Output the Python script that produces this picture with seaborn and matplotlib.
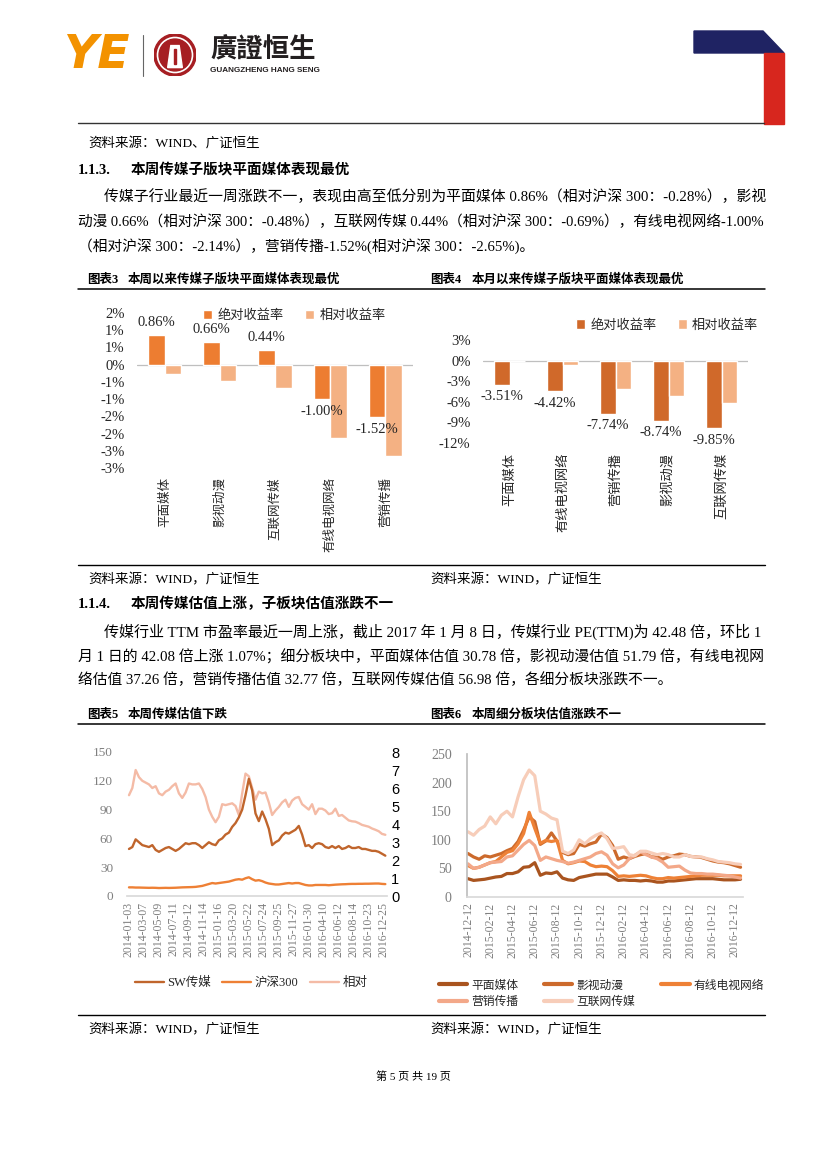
import numpy as np
import pandas as pd
import matplotlib
matplotlib.use("Agg")
import matplotlib.pyplot as plt
import seaborn as sns
from matplotlib.patches import Polygon, Rectangle, Circle
from matplotlib.lines import Line2D

# ---------------- data ----------------
cats3 = ["平面媒体", "影视动漫", "互联网传媒", "有线电视网络", "营销传播"]
abs3 = [0.86, 0.66, 0.44, -1.00, -1.52]
rel3 = [-0.28, -0.48, -0.69, -2.14, -2.65]
yticks3 = [1.5, 1.0, 0.5, 0.0, -0.5, -1.0, -1.5, -2.0, -2.5, -3.0]
ylabels3 = ["2%", "1%", "1%", "0%", "-1%", "-1%", "-2%", "-2%", "-3%", "-3%"]

cats4 = ["平面媒体", "有线电视网络", "营销传播", "影视动漫", "互联网传媒"]
abs4 = [-3.51, -4.42, -7.74, -8.74, -9.85]
rel4 = [0.0, -0.7, -4.1, -5.1, -6.2]
yticks4 = [3, 0, -3, -6, -9, -12]
ylabels4 = ["3%", "0%", "-3%", "-6%", "-9%", "-12%"]

legend_bar = ["绝对收益率", "相对收益率"]

names5 = ["SW传媒", "沪深300", "相对"]
sw5 = [49, 51, 59, 56, 53, 52, 51, 53, 48, 46,
       48, 50, 51, 49, 47, 49, 52, 55, 54, 55,
       55, 53, 50, 53, 56, 54, 53, 58, 60, 64,
       66, 72, 76, 82, 90, 105, 122, 110, 86, 78,
       88, 80, 70, 53, 56, 58, 63, 66, 65, 67,
       69, 73, 64, 52, 53, 50, 54, 55, 54, 51,
       50, 52, 50, 52, 49, 50, 52, 50, 50, 51,
       49, 49, 48, 47, 47, 46, 44, 42]
hs5 = [9.0, 9.0, 8.8, 8.8, 8.7, 8.6, 8.5, 8.6, 8.5, 8.3,
       8.4, 8.5, 8.4, 8.5, 8.6, 8.8, 9.0, 9.1, 9.2, 9.3,
       9.5, 10.0, 10.5, 11.5, 12.5, 13.5, 13.0, 13.5, 14.0, 14.5,
       15.0, 16.0, 17.0, 17.5, 17.0, 18.5, 19.5, 17.5, 16.0, 16.5,
       15.5, 14.0, 13.0, 12.5, 12.0, 12.0, 12.5, 13.0, 13.5, 13.0,
       13.5, 13.5, 12.5, 11.5, 11.0, 11.0, 11.5, 11.5, 11.5, 11.5,
       11.2, 11.5, 11.8, 12.0, 12.2, 12.3, 12.5, 12.6, 12.6, 12.7,
       12.7, 12.8, 12.8, 12.9, 13.0, 13.0, 12.6, 12.4]
rel5 = [5.6, 6.0, 7.0, 6.6, 6.4, 6.3, 6.2, 6.0, 6.1, 5.7,
        5.6, 5.8, 5.9, 6.1, 6.25, 5.7, 5.45, 5.75, 6.25, 6.2,
        6.2, 6.25, 5.95, 5.5, 4.8, 4.4, 4.1, 4.4, 5.1, 5.05,
        5.1, 5.15, 5.0, 4.5, 5.7, 6.8, 6.65, 6.0, 5.35, 5.8,
        5.7, 5.75, 5.2, 4.5, 4.75, 4.95, 5.2, 5.35, 4.95, 5.3,
        5.45, 5.5, 5.1, 4.95, 4.8, 5.1, 4.55, 4.85, 4.85, 4.75,
        4.55, 4.6, 4.85, 4.45, 4.5, 4.35, 4.2, 4.15, 4.13, 4.05,
        3.95, 3.9, 3.85, 3.75, 3.68, 3.6, 3.45, 3.4]
xlabels5 = ["2014-01-03", "2014-03-07", "2014-05-09", "2014-07-11", "2014-09-12",
            "2014-11-14", "2015-01-16", "2015-03-20", "2015-05-22", "2015-07-24",
            "2015-09-25", "2015-11-27", "2016-01-30", "2016-04-10", "2016-06-12",
            "2016-08-14", "2016-10-23", "2016-12-25"]

names6 = ["平面媒体", "影视动漫", "有线电视网络", "营销传播", "互联网传媒"]
pm6 = [32, 29, 30, 31, 33, 35, 36, 41, 41, 44, 52, 53, 60, 38, 42, 41, 44, 33, 30, 29,
       34, 36, 38, 40, 40, 40, 35, 29, 30, 29, 29, 28, 29, 28, 26, 26, 28, 28, 29, 30,
       31, 32, 32, 32, 32, 31, 30, 30, 30, 31]
ys6 = [76, 70, 66, 72, 70, 73, 76, 81, 85, 97, 117, 140, 132, 92, 98, 112, 98, 78, 74, 76,
       92, 89, 93, 96, 110, 104, 90, 66, 70, 67, 71, 74, 76, 70, 70, 66, 70, 72, 75, 74,
       71, 70, 69, 66, 63, 61, 60, 58, 55, 52]
yx6 = [55, 50, 52, 56, 60, 62, 70, 78, 81, 93, 111, 148, 120, 94, 99, 97, 99, 64, 58, 60,
       63, 62, 56, 53, 54, 53, 46, 36, 37, 36, 37, 38, 37, 34, 32, 32, 34, 33, 34, 35,
       36, 37, 38, 38, 38, 38, 37, 37, 37, 37]
yc6 = [58, 50, 52, 56, 60, 61, 62, 70, 72, 82, 92, 99, 90, 64, 70, 67, 64, 62, 59, 61,
       64, 67, 70, 76, 79, 73, 58, 51, 56, 67, 73, 79, 74, 70, 67, 61, 52, 53, 54, 47,
       42, 41, 41, 40, 40, 39, 38, 37, 35, 33]
hl6 = [114, 108, 118, 124, 140, 128, 143, 150, 140, 175, 205, 222, 212, 150, 145, 138, 135, 80, 76, 82,
       100, 93, 102, 108, 112, 102, 85, 86, 88, 74, 72, 80, 80, 77, 74, 76, 74, 70, 70, 74,
       71, 70, 70, 67, 65, 62, 61, 60, 58, 57]
xlabels6 = ["2014-12-12", "2015-02-12", "2015-04-12", "2015-06-12", "2015-08-12",
            "2015-10-12", "2015-12-12", "2016-02-12", "2016-04-12", "2016-06-12",
            "2016-08-12", "2016-10-12", "2016-12-12"]

# ---------------- style ----------------
sns.set_theme(style="white")
BODY = ["Liberation Serif", "Noto Sans CJK SC"]
CJK = ["Noto Sans CJK SC", "Liberation Serif"]
plt.rcParams["font.family"] = BODY
plt.rcParams["axes.unicode_minus"] = False

C_ABS3 = "#ED7D31"
C_ABS4 = "#D0692A"
C_REL = "#F4B183"
C5 = ["#C0652C", "#EE8035", "#F4BBA6"]
C6 = ["#A9541F", "#CC6A2C", "#EE8136", "#F3A889", "#F7CDB9"]
GREY = "#7F7F7F"

W, H = 827, 1169
fig = plt.figure(figsize=(W / 100, H / 100), dpi=100)
fig.patch.set_facecolor("white")
renderer = fig.canvas.get_renderer()


def fx(x):
    return x / W


def fy(y):
    return 1 - y / H


def text(x, y, s, size=10, weight="normal", ha="left", va="center", color="black", family=None, **kw):
    return fig.text(fx(x), fy(y), s, fontsize=size, fontweight=weight, ha=ha, va=va,
                    color=color, family=family or BODY, **kw)


def justified(x0, x1, y, s, size=10.6):
    t = text(x0, y, s, size=size)
    w = t.get_window_extent(renderer).width
    t.set_fontsize(size * (x1 - x0) / w)
    return t


def hline(x0, x1, y, lw=1.0, color="black"):
    fig.add_artist(Line2D([fx(x0), fx(x1)], [fy(y), fy(y)], transform=fig.transFigure,
                          lw=lw, color=color))


def axes_px(left, top, right, bottom):
    return fig.add_axes([fx(left), fy(bottom), (right - left) / W, (bottom - top) / H])


# ---------------- header ----------------
text(63, 55, "YE", size=34, weight="heavy", color="#F39200", family=["DejaVu Sans"], style="italic")
fig.add_artist(Line2D([fx(143), fx(143)], [fy(35), fy(76)], transform=fig.transFigure,
                      lw=0.8, color="#666666"))
axl = axes_px(154, 34, 196, 76)
axl.set_xlim(-1, 1)
axl.set_ylim(-1, 1)
axl.set_aspect("equal")
axl.axis("off")
axl.add_patch(Circle((0, 0), 1.0, color="#A61E22"))
axl.add_patch(Circle((0, 0), 0.84, color="white"))
axl.add_patch(Circle((0, 0), 0.76, color="#A61E22"))
axl.add_patch(Polygon([[-0.35, -0.6], [-0.2, 0.45], [0.2, 0.45], [0.35, -0.6]], color="white"))
axl.add_patch(Rectangle((-0.06, -0.45), 0.12, 0.75, color="#A61E22"))
text(210, 50, "廣證恒生", size=19, weight="bold", color="#231F20", family=["Noto Sans CJK TC"])
text(210, 71, "GUANGZHENG HANG SENG", size=5.9, weight="bold", color="#231F20",
     family=["Liberation Sans"])
fig.add_artist(Polygon([[fx(694), fy(31)], [fx(763), fy(31)], [fx(784), fy(53)], [fx(694), fy(53)]],
                       closed=True, transform=fig.transFigure, color="#1F2363"))
fig.add_artist(Rectangle((fx(764), fy(124)), (784 - 764) / W, (124 - 53) / H,
                         transform=fig.transFigure, color="#D7261E"))
hline(78, 764, 123, lw=1.0, color="#333333")

# ---------------- body text ----------------
text(88, 143, "资料来源：WIND、广证恒生", size=9.7)
text(78, 170, "1.1.3.", size=10.5, weight="bold")
text(131, 170, "本周传媒子版块平面媒体表现最优", size=10.5, weight="bold")
justified(104, 765, 197, "传媒子行业最近一周涨跌不一，表现由高至低分别为平面媒体 0.86%（相对沪深 300：-0.28%），影视")
justified(78, 765, 222, "动漫 0.66%（相对沪深 300：-0.48%），互联网传媒 0.44%（相对沪深 300：-0.69%），有线电视网络-1.00%")
text(78, 246, "（相对沪深 300：-2.14%），营销传播-1.52%(相对沪深 300：-2.65%)。", size=10.6)

text(87, 280, "图表3", size=9, weight="bold")
text(128, 280, "本周以来传媒子版块平面媒体表现最优", size=9, weight="bold")
text(430, 280, "图表4", size=9, weight="bold")
text(472, 280, "本月以来传媒子版块平面媒体表现最优", size=9, weight="bold")
hline(78, 765, 289, lw=1.1)

hline(78, 765, 565, lw=1.0)
text(88, 580, "资料来源：WIND，广证恒生", size=9.7)
text(430, 580, "资料来源：WIND，广证恒生", size=9.7)
text(78, 604, "1.1.4.", size=10.5, weight="bold")
text(131, 604, "本周传媒估值上涨，子板块估值涨跌不一", size=10.5, weight="bold")
justified(104, 765, 632, "传媒行业 TTM 市盈率最近一周上涨，截止 2017 年 1 月 8 日，传媒行业 PE(TTM)为 42.48 倍，环比 1")
justified(78, 765, 657, "月 1 日的 42.08 倍上涨 1.07%；细分板块中，平面媒体估值 30.78 倍，影视动漫估值 51.79 倍，有线电视网")
text(78, 680, "络估值 37.26 倍，营销传播估值 32.77 倍，互联网传媒估值 56.98 倍，各细分板块涨跌不一。", size=10.6)

text(87, 715, "图表5", size=9, weight="bold")
text(128, 715, "本周传媒估值下跌", size=9, weight="bold")
text(430, 715, "图表6", size=9, weight="bold")
text(472, 715, "本周细分板块估值涨跌不一", size=9, weight="bold")
hline(78, 765, 724, lw=1.1)

hline(78, 765, 1015, lw=1.0)
text(88, 1030, "资料来源：WIND，广证恒生", size=9.7)
text(430, 1030, "资料来源：WIND，广证恒生", size=9.7)
text(413, 1077, "第 5 页 共 19 页", size=8, ha="center")


# ---------------- bar charts ----------------
def bar_chart(ax, cats, a, r, c_abs, yticks, ylabels, ylim, xpad, xsize, leg_anchor):
    df = pd.DataFrame({"cat": cats * 2, "val": a + r,
                       "type": [legend_bar[0]] * len(cats) + [legend_bar[1]] * len(cats)})
    sns.barplot(data=df, x="cat", y="val", hue="type", palette=[c_abs, C_REL],
                width=0.6, saturation=1, ax=ax, order=cats, hue_order=legend_bar)
    ax.set_ylim(*ylim)
    ax.set_yticks(yticks)
    ax.set_yticklabels(ylabels)
    ax.axhline(0, color="#BFBFBF", lw=0.9, zorder=0.5)
    for s in ax.spines.values():
        s.set_visible(False)
    ax.tick_params(axis="y", length=0, pad=9, labelsize=10.5)
    ax.tick_params(axis="x", length=0, pad=xpad, labelsize=xsize, labelrotation=90)
    for lab in ax.get_xticklabels():
        lab.set_family(CJK)
    ax.set_xlabel("")
    ax.set_ylabel("")
    ax.set_facecolor("white")
    ax.bar_label(ax.containers[0], labels=[f"{v:.2f}%" for v in a], padding=4, fontsize=10.5)
    leg = ax.legend(loc="center left", bbox_to_anchor=leg_anchor, ncol=2, frameon=False,
                    handlelength=0.7, handleheight=0.7, handletextpad=0.4, columnspacing=1.6,
                    fontsize=9.5, borderaxespad=0)
    for t in leg.get_texts():
        t.set_family(CJK)
    return ax


ax3 = axes_px(137, 313, 413, 468)
bar_chart(ax3, cats3, abs3, rel3, C_ABS3, yticks3, ylabels3, (-3, 1.5), 6.5, 9, (0.22, 0.985))

ax4 = axes_px(483, 340, 748, 443)
bar_chart(ax4, cats4, abs4, rel4, C_ABS4, yticks4, ylabels4, (-12, 3), 7, 9.5, (0.33, 1.145))

# ---------------- chart 5 ----------------
ax5 = axes_px(127, 752, 387, 896)
weeks5 = np.arange(len(sw5)) * 2
df5 = pd.DataFrame({"week": np.concatenate([weeks5, weeks5]),
                    "val": sw5 + hs5,
                    "series": [names5[0]] * len(sw5) + [names5[1]] * len(hs5)})
sns.lineplot(data=df5, x="week", y="val", hue="series", hue_order=names5[:2],
             palette=C5[:2], lw=1.7, ax=ax5, legend=False)
ax5b = ax5.twinx()
sns.lineplot(x=weeks5, y=rel5, color=C5[2], lw=1.7, ax=ax5b, legend=False)
ax5.set_zorder(ax5b.get_zorder() + 1)
ax5.patch.set_visible(False)
ax5.set_xlim(-1.2, 155)
ax5.set_ylim(0, 150)
ax5b.set_ylim(0, 8)
ax5.set_yticks(np.arange(0, 151, 30))
ax5b.set_yticks(np.arange(0, 9, 1))
ax5.set_xticks(np.arange(len(xlabels5)) * 9)
ax5.set_xticklabels(xlabels5)
for a in (ax5, ax5b):
    for s in a.spines.values():
        s.set_visible(False)
    a.set_xlabel("")
    a.set_ylabel("")
ax5.spines["bottom"].set_visible(True)
ax5.spines["bottom"].set_color("#D9D9D9")
ax5.tick_params(axis="y", length=0, pad=10, labelsize=9.5, labelcolor=GREY)
ax5.tick_params(axis="x", length=0, pad=4, labelsize=8.5, labelcolor=GREY, labelrotation=90)
ax5b.tick_params(axis="y", length=0, pad=3, labelsize=10.5, labelcolor="black")
for lab in ax5b.get_yticklabels():
    lab.set_family(["Liberation Sans"])
h5 = list(ax5.lines[:2]) + list(ax5b.lines[:1])
fig.legend(h5, names5, loc="center", bbox_to_anchor=(fx(251), fy(983)), ncol=3, frameon=False,
           handlelength=2.3, handletextpad=0.3, columnspacing=0.9, fontsize=9)

# ---------------- chart 6 ----------------
ax6 = axes_px(467, 754, 743, 897)
months6 = np.arange(len(pm6)) * 0.5
series6 = [pm6, ys6, yx6, yc6, hl6]
df6 = pd.DataFrame({"m": np.concatenate([months6] * 5),
                    "val": sum(series6, []),
                    "series": sum([[n] * len(s) for n, s in zip(names6, series6)], [])})
sns.lineplot(data=df6, x="m", y="val", hue="series", hue_order=names6, palette=C6,
             lw=2.3, ax=ax6, legend=False)
ax6.set_xlim(-0.09, 24.72)
ax6.set_ylim(0, 250)
ax6.set_yticks(np.arange(0, 251, 50))
ax6.set_xticks(np.arange(len(xlabels6)) * 2)
ax6.set_xticklabels(xlabels6)
for s in ax6.spines.values():
    s.set_visible(False)
ax6.spines["bottom"].set_visible(True)
ax6.spines["bottom"].set_color("#D9D9D9")
ax6.spines["left"].set_visible(True)
ax6.spines["left"].set_color("#BFBFBF")
ax6.set_xlabel("")
ax6.set_ylabel("")
ax6.tick_params(axis="y", length=0, pad=11, labelsize=10, labelcolor=GREY)
ax6.tick_params(axis="x", length=0, pad=4, labelsize=8.5, labelcolor=GREY, labelrotation=90)
h6 = list(ax6.lines[:5])
order = [0, 3, 1, 4, 2]
leg6 = fig.legend([h6[i] for i in order], [names6[i] for i in order], loc="upper left",
                  bbox_to_anchor=(fx(428), fy(968)), ncol=3, frameon=False, handlelength=2.4,
                  handletextpad=0.35, columnspacing=2.2, labelspacing=0.3, fontsize=8.5)
for t in leg6.get_texts():
    t.set_family(CJK)
for l in leg6.get_lines():
    l.set_linewidth(3.0)

fig.savefig("out.png", dpi=100, facecolor="white")
